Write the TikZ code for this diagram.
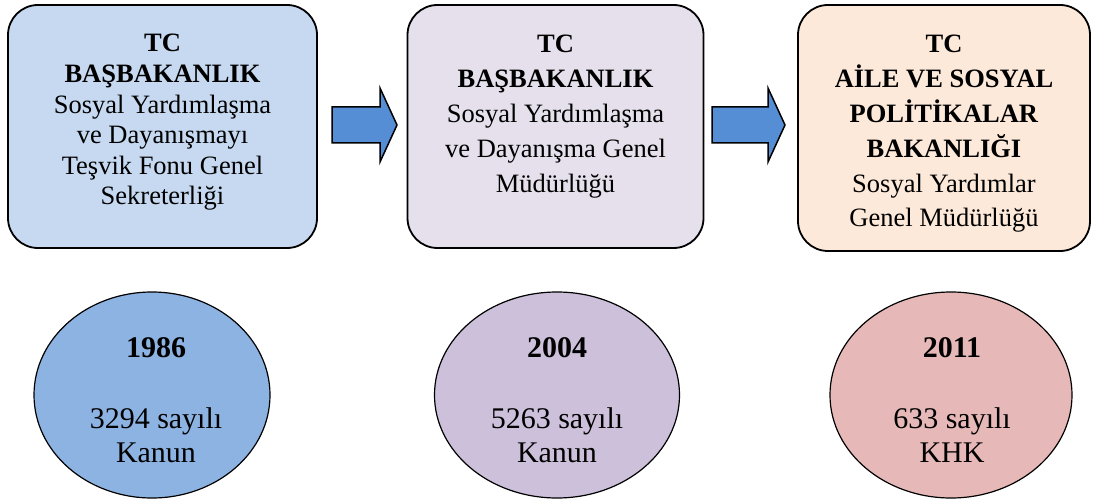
\documentclass[tikz,border=0pt]{standalone}
\usepackage{fontspec}
\setmainfont{Liberation Serif}
\usetikzlibrary{shapes.geometric}
\definecolor{boxA}{HTML}{C6D9F1}
\definecolor{boxB}{HTML}{E5E0EC}
\definecolor{boxC}{HTML}{FDE9D9}
\definecolor{ellA}{HTML}{8DB3E2}
\definecolor{ellB}{HTML}{CCC0DA}
\definecolor{ellC}{HTML}{E6B9B8}
\definecolor{arrowblue}{HTML}{558ED5}
\tikzset{
  roundbox/.style={draw=black, line width=1.8pt, rounded corners=30pt, inner sep=0pt},
  boxtext/.style={align=center, anchor=north, inner sep=0pt},
  oval/.style={ellipse, draw=black, line width=1.2pt, inner sep=0pt},
  ovaltext/.style={align=center, inner sep=0pt, font=\fontsize{30}{34}\selectfont},
  blockarrow/.style={draw=black, line width=1.5pt, fill=arrowblue, line join=miter}
}
\begin{document}
\begin{tikzpicture}[x=1pt,y=-1pt]
\useasboundingbox (0,0) rectangle (1093,500);
% boxes
\node[roundbox, fill=boxA, minimum width=309pt, minimum height=243pt] (b1) at (162.5,126.5) {};
\node[roundbox, fill=boxB, minimum width=296pt, minimum height=243pt] (b2) at (555.5,126.5) {};
\node[roundbox, fill=boxC, minimum width=292pt, minimum height=246pt] (b3) at (944,128) {};
% box texts
\node[boxtext, font=\fontsize{26.5}{30.6}\selectfont] (t1) at ([yshift=-30pt]b1.north) {\textbf{TC}\\\textbf{BAŞBAKANLIK}\\Sosyal Yardımlaşma\\ve Dayanışmayı\\Teşvik Fonu Genel\\Sekreterliği};
\node[boxtext, font=\fontsize{26.5}{35}\selectfont] (t2) at ([yshift=-31pt]b2.north) {\textbf{TC}\\\textbf{BAŞBAKANLIK}\\Sosyal Yardımlaşma\\ve Dayanışma Genel\\Müdürlüğü};
\begin{scope}
\clip (800,0) rectangle (1090,231);
\node[boxtext, font=\fontsize{26.5}{34.8}\selectfont] (t3) at ([yshift=-31pt]b3.north) {\textbf{TC}\\\textbf{AİLE VE SOSYAL}\\\textbf{POLİTİKALAR}\\\textbf{BAKANLIĞI}\\Sosyal Yardımlar\\Genel Müdürlüğü};
\end{scope}
% arrows
\coordinate (a1) at (332,125);
\coordinate (a2) at (712,125);
\draw[blockarrow] (a1) ++(0,-18) -- ++(48,0) -- ++(0,-19) -- (397,125) -- (380,162) -- (380,143) -- (332,143) -- cycle;
\draw[blockarrow] (a2) ++(0,-18) -- ++(56,0) -- ++(0,-19) -- (785,125) -- (768,162) -- (768,143) -- (712,143) -- cycle;
% ovals
\node[oval, fill=ellA, minimum width=236pt, minimum height=206pt] (e1) at (152,395) {};
\node[oval, fill=ellB, minimum width=245pt, minimum height=206pt] (e2) at (557,395) {};
\node[oval, fill=ellC, minimum width=242pt, minimum height=206pt] (e3) at (951,395) {};
\node[ovaltext, font=\fontsize{30}{34}\bfseries] (y1) at (156,348) {1986};
\node[ovaltext] (l1) at (156,435) {3294 sayılı\\Kanun};
\node[ovaltext, font=\fontsize{30}{34}\bfseries] (y2) at (557,348) {2004};
\node[ovaltext] (l2) at (557,435) {5263 sayılı\\Kanun};
\node[ovaltext, font=\fontsize{30}{34}\bfseries] (y3) at (952,348) {2011};
\node[ovaltext] (l3) at (952,435) {633 sayılı\\KHK};
\end{tikzpicture}
\end{document}
